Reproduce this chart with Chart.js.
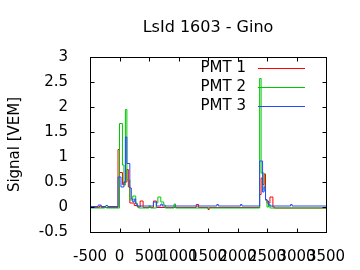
<!DOCTYPE html>
<html>
<head>
<meta charset="utf-8">
<script src="https://cdn.jsdelivr.net/npm/chart.js@4"></script>
<style>
html, body { margin: 0; padding: 0; background: #fff; }
</style>
</head>
<body>
<canvas id="chart" width="360" height="270"></canvas>
<script>
// Chart data
const titleText = 'LsId 1603 - Gino';
const yTitle = 'Signal [VEM]';
const pmtLabels = ['PMT 1', 'PMT 2', 'PMT 3'];
const pmtColors = ['rgb(255,0,0)', 'rgb(0,200,0)', 'rgb(40,70,255)'];
const xTicks = [-500, 0, 500, 1000, 1500, 2000, 2500, 3000, 3500];
const yTicks = [-0.5, 0, 0.5, 1, 1.5, 2, 2.5, 3];

// PMT 1 (time of step, value)
const t1 = [-500, -340, -310, -25, 0, 50, 75, 125, 150, 175, 250, 300, 350, 400, 575, 625, 1300, 1340, 1500, 1520, 2375, 2400, 2425, 2450, 2475, 2500, 2550, 2600, 2625, 3500];
const v1 = [-0.01, 0.02, -0.01, 1.15, 0.69, 0.45, 0.5, 0.75, 0.4, 0.08, 0.03, 0.0, 0.12, -0.01, 0.12, -0.01, 0.05, -0.01, -0.05, -0.01, 0.25, 0.58, 0.45, 0.66, 0.14, 0.08, 0.2, 0.0, -0.02, -0.02];

// PMT 2
const t2 = [-500, -250, -225, 0, 50, 75, 100, 125, 175, 225, 275, 300, 325, 500, 525, 625, 650, 700, 750, 775, 925, 950, 2375, 2400, 2450, 2475, 2500, 2525, 2550, 3500];
const v2 = [-0.02, 0.0, -0.02, 1.67, 0.84, 0.44, 1.95, 0.54, 0.14, 0.22, 0.08, 0.02, -0.02, 0.02, -0.02, 0.08, 0.2, 0.1, 0.04, -0.02, 0.06, -0.02, 2.57, 0.68, 0.34, 0.14, 0.0, 0.06, -0.02, -0.02];

// PMT 3
const t3 = [-500, -360, -310, -230, -200, -25, 25, 75, 100, 125, 175, 200, 225, 250, 275, 300, 575, 625, 700, 725, 1650, 1675, 2050, 2075, 2375, 2425, 2450, 2475, 2500, 2525, 2550, 2900, 2925, 3500];
const v3 = [0.01, 0.04, 0.01, 0.03, 0.01, 0.6, 0.4, 0.5, 1.4, 0.87, 0.38, 0.16, 0.1, 0.16, 0.06, 0.02, 0.1, 0.02, 0.06, 0.02, 0.05, 0.02, 0.05, 0.02, 0.92, 0.3, 0.4, 0.15, 0.12, 0.04, 0.02, 0.05, 0.02, 0.02];

const font = '"DejaVu Sans", sans-serif';

function toPoints(ts, vs) {
    return ts.map((t, i) => ({ x: t, y: vs[i] }));
}

const series = [[t1, v1], [t2, v2], [t3, v3]];

// frame, inward ticks, title and legend, gnuplot style
const decorPlugin = {
    id: 'decor',
    afterDraw(chart) {
        const ctx = chart.ctx;
        const a = chart.chartArea;
        const xs = chart.scales.x, ys = chart.scales.y;
        const L = a.left + 0.5, R = a.right + 0.5, T = a.top + 0.5, B = a.bottom + 0.5;
        ctx.save();
        ctx.strokeStyle = '#000';
        ctx.lineWidth = 1;
        ctx.strokeRect(L, T, R - L, B - T);
        ctx.beginPath();
        xTicks.forEach(v => {
            const px = Math.round(xs.getPixelForValue(v)) + 0.5;
            ctx.moveTo(px, B); ctx.lineTo(px, B - 4);
            ctx.moveTo(px, T); ctx.lineTo(px, T + 4);
        });
        yTicks.forEach(v => {
            const py = Math.round(ys.getPixelForValue(v)) + 0.5;
            ctx.moveTo(L, py); ctx.lineTo(L + 4, py);
            ctx.moveTo(R, py); ctx.lineTo(R - 4, py);
        });
        ctx.stroke();

        ctx.fillStyle = '#000';
        ctx.font = '16px ' + font;
        ctx.textAlign = 'center';
        ctx.textBaseline = 'middle';
        ctx.fillText(titleText, (a.left + a.right) / 2, 28);

        ctx.font = '15px ' + font;
        ctx.textAlign = 'right';
        pmtLabels.forEach((lab, i) => {
            const y = 68 + i * 19;
            ctx.fillStyle = '#000';
            ctx.fillText(lab, 246, y);
            ctx.strokeStyle = pmtColors[i];
            ctx.beginPath();
            ctx.moveTo(258, y + 0.5);
            ctx.lineTo(305, y + 0.5);
            ctx.stroke();
        });
        ctx.restore();
    }
};

new Chart(document.getElementById('chart'), {
    type: 'line',
    data: {
        datasets: series.map((s, i) => ({
            label: pmtLabels[i],
            data: toPoints(s[0], s[1]),
            borderColor: pmtColors[i],
            borderWidth: 1,
            stepped: 'before',
            pointRadius: 0,
            fill: false,
            order: 3 - i
        }))
    },
    options: {
        responsive: false,
        animation: false,
        layout: { padding: { top: 57, right: 34, left: 0, bottom: 0 } },
        plugins: {
            legend: { display: false },
            tooltip: { enabled: false }
        },
        scales: {
            x: {
                type: 'linear',
                min: -500,
                max: 3500,
                afterBuildTicks: (scale) => { scale.ticks = xTicks.map(v => ({ value: v })); },
                afterFit: (scale) => { scale.height = 38; },
                grid: { display: false },
                border: { display: false },
                ticks: {
                    autoSkip: false,
                    maxRotation: 0,
                    minRotation: 0,
                    padding: 8,
                    color: '#000',
                    font: { family: font, size: 15 },
                    callback: (v) => String(v)
                }
            },
            y: {
                min: -0.5,
                max: 3,
                afterBuildTicks: (scale) => { scale.ticks = yTicks.map(v => ({ value: v })); },
                afterFit: (scale) => { scale.width = 90; },
                grid: { display: false },
                border: { display: false },
                title: {
                    display: true,
                    text: yTitle,
                    color: '#000',
                    padding: { top: 6, bottom: 0 },
                    font: { family: font, size: 15 }
                },
                ticks: {
                    padding: 14,
                    color: '#000',
                    font: { family: font, size: 15 },
                    callback: (v) => String(v)
                }
            }
        }
    },
    plugins: [decorPlugin]
});
</script>
</body>
</html>
